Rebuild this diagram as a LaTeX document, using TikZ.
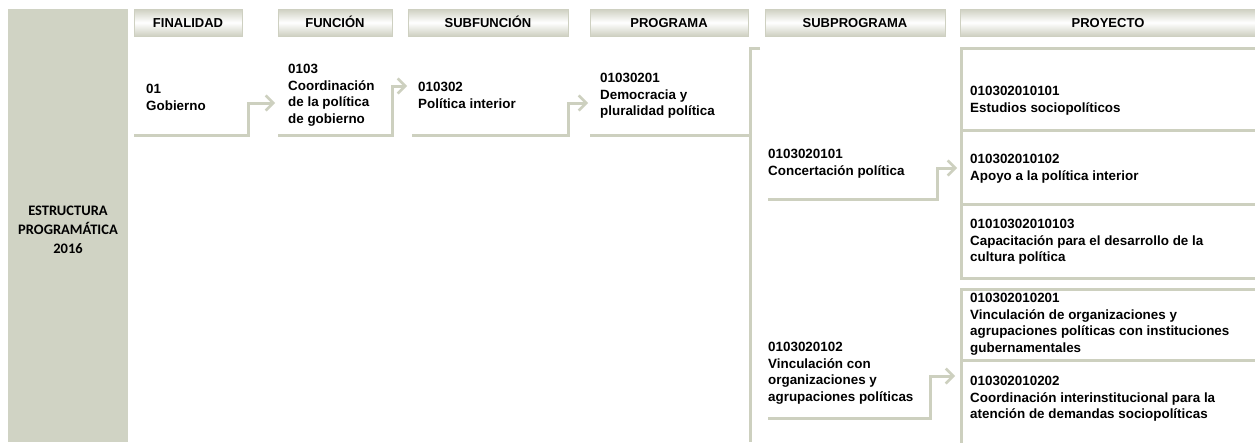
\documentclass[tikz,border=0pt]{standalone}
\usepackage{fontspec}
\setmainfont{Liberation Sans}
\newfontfamily\calibri{Carlito}
\usetikzlibrary{arrows.meta}
\definecolor{panel}{RGB}{208,211,196}
\definecolor{lnc}{RGB}{205,208,191}
\definecolor{hdr}{RGB}{206,208,193}
\begin{document}
\begin{tikzpicture}[x=1pt,y=-1pt,
  hdrbox/.style={rectangle, top color=hdr, bottom color=hdr, middle color=white,
    draw=hdr, line width=0.8pt, inner sep=0pt, minimum height=27pt,
    text height=9.5pt, text depth=0pt,
    font=\bfseries\fontsize{13}{15}\selectfont},
  txt/.style={anchor=north west, align=left, inner sep=0pt,
    font=\bfseries\fontsize{13.4}{16.5}\selectfont},
  conn/.style={draw=lnc, line width=3pt},
  arr/.style={conn, -{Straight Barb[length=7.5pt,width=15pt,line width=2.5pt]}}]
\useasboundingbox (0,0) rectangle (1255,442);
\fill[white] (0,0) rectangle (1255,442);
% left panel
\fill[panel] (8,9) rectangle (128,442);
\node[inner sep=0pt, align=center, font=\calibri\bfseries\fontsize{14.5}{19}\selectfont]
  (panel) at (68,230) {ESTRUCTURA\\PROGRAMÁTICA\\2016};
% headers
\node[hdrbox, minimum width=108pt] (hfin) at (188,22.5) {FINALIDAD};
\node[hdrbox, minimum width=114pt] (hfun) at (335,22.5) {FUNCIÓN};
\node[hdrbox, minimum width=160pt] (hsfun) at (488,22.5) {SUBFUNCIÓN};
\node[hdrbox, minimum width=158pt] (hprog) at (669,22.5) {PROGRAMA};
\node[hdrbox, minimum width=180pt] (hsprog) at (855,22.5) {SUBPROGRAMA};
\node[hdrbox, minimum width=296pt] (hproy) at (1108,22.5) {PROYECTO};
% texts
\node[txt] (fin) at (146,84) {01\\Gobierno};
\node[txt] (fun) at (288,64) {0103\\Coordinación\\de la política\\de gobierno};
\node[txt] (sfun) at (418,82) {010302\\Política interior};
\node[txt] (prog) at (600,73) {01030201\\Democracia y\\pluralidad política};
\node[txt] (sp1) at (768,149) {0103020101\\Concertación política};
\node[txt] (sp2) at (768,342) {0103020102\\Vinculación con\\organizaciones y\\agrupaciones políticas};
\node[txt] (p1) at (970,86) {010302010101\\Estudios sociopolíticos};
\node[txt] (p2) at (970,154) {010302010102\\Apoyo a la política interior};
\node[txt] (p3) at (970,219) {01010302010103\\Capacitación para el desarrollo de la\\cultura política};
\node[txt] (p4) at (970,293) {010302010201\\Vinculación de organizaciones y\\agrupaciones políticas con instituciones\\gubernamentales};
\node[txt] (p5) at (970,376) {010302010202\\Coordinación interinstitucional para la\\atención de demandas sociopolíticas};
% connector coordinates
\coordinate (finA) at (134,135);
\coordinate (finB) at (248,135);
\coordinate (funIn) at (275,103);
\coordinate (funA) at (278,135);
\coordinate (funB) at (392,135);
\coordinate (sfunIn) at (407,86);
\coordinate (sfunA) at (412,135);
\coordinate (sfunB) at (568,135);
\coordinate (progIn) at (588,103);
\coordinate (progA) at (590,135);
\coordinate (brTop) at (760,48);
\coordinate (brV) at (750,48);
\coordinate (brBot) at (750,442);
\coordinate (brJ) at (750,135);
\coordinate (sp1A) at (768,199);
\coordinate (sp1B) at (937,199);
\coordinate (p2In) at (957,168);
\coordinate (sp2A) at (768,418);
\coordinate (sp2B) at (930,418);
\coordinate (p5In) at (955,376);
% connectors
\draw[arr] (finA) -- (finB) |- (funIn);
\draw[arr] (funA) -- (funB) |- (sfunIn);
\draw[arr] (sfunA) -- (sfunB) |- (progIn);
\draw[conn] (progA) -- (brJ);
\draw[conn] (brTop) -- (brV) -- (brBot);
\draw[arr] (sp1A) -- (sp1B) |- (p2In);
\draw[arr] (sp2A) -- (sp2B) |- (p5In);
% proyecto boxes
\draw[conn] (1256,48) -- (961,48) -- (961,278) -- (1256,278);
\draw[conn] (961,130) -- (1256,130);
\draw[conn] (961,204) -- (1256,204);
\draw[conn] (1256,289) -- (961,289) -- (961,443);
\draw[conn] (961,360) -- (1256,360);
\end{tikzpicture}
\end{document}
